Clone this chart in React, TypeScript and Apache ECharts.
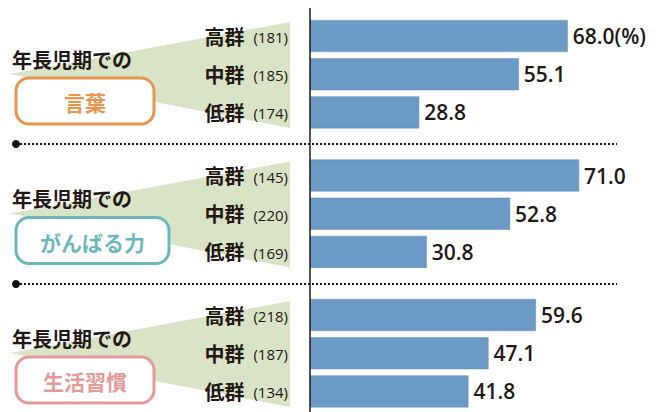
import React, { useEffect, useRef } from "react";
import * as echarts from "echarts";

const groups = ["言葉", "がんばる力", "生活習慣"];
const groupColors = ["#E8954F", "#6BB8BC", "#E59A98"];
const levels = ["高群", "中群", "低群"];
const counts = [
  [181, 185, 174],
  [145, 220, 169],
  [218, 187, 134],
];
const values = [
  [68.0, 55.1, 28.8],
  [71.0, 52.8, 30.8],
  [59.6, 47.1, 41.8],
];
const prefixText = "年長児期での";
const unitText = "(%)";

const JP = "'Noto Sans CJK JP', 'Noto Sans', sans-serif";
const NUM = "'Open Sans', 'Noto Sans', sans-serif";
const INK = "#231815";

export default function App() {
  const ref = useRef<HTMLDivElement>(null);
  useEffect(() => {
    document.body.style.margin = "0";
    if (!ref.current) return;
    const chart = echarts.init(ref.current, undefined, { renderer: "svg" });

    const offsets = [0, 139.5, 279];
    const gridTop = 16.9;
    const gridH = 114.6;
    const boxW = [138, 153, 138];

    const grids: any[] = [];
    const xAxes: any[] = [];
    const yAxes: any[] = [];
    const series: any[] = [];
    const graphics: any[] = [];

    groups.forEach((g, gi) => {
      const off = offsets[gi];
      grids.push({ left: 310, width: 303.2, top: gridTop + off, height: gridH });
      xAxes.push({
        type: "value",
        gridIndex: gi,
        min: 0,
        max: 80,
        show: false,
      });
      yAxes.push({
        type: "category",
        gridIndex: gi,
        inverse: true,
        data: levels,
        axisLine: { show: false },
        axisTick: { show: false },
        splitLine: { show: false },
        axisLabel: {
          margin: 22,
          fontSize: 15,
          fontFamily: NUM,
          color: INK,
          formatter: (v: string, idx: number) => `{a|${v}}{b|(${counts[gi][idx]})}`,
          rich: {
            a: { fontFamily: JP, fontSize: 20, fontWeight: "bold", color: INK },
            b: { fontFamily: NUM, fontSize: 15, fontWeight: 500, color: INK, padding: [2, 0, 0, 9] },
          },
        },
      });
      series.push({
        type: "bar",
        xAxisIndex: gi,
        yAxisIndex: gi,
        data: values[gi],
        barWidth: 32,
        itemStyle: { color: "#6B9AC6", borderColor: "#5E8DBB", borderWidth: 0.5 },
        label: {
          show: true,
          position: "right",
          distance: 5,
          fontFamily: NUM,
          fontSize: 21,
          fontWeight: 600,
          color: INK,
          formatter: (p: any) =>
            p.value.toFixed(1) + (gi === 0 && p.dataIndex === 0 ? unitText : ""),
        },
      });

      // wedge
      graphics.push({
        type: "polygon",
        z: -10,
        shape: { points: [[10, 74 + off], [290, 22 + off], [290, 128 + off]] },
        style: { fill: "#D9E3C6" },
      });
      // prefix text
      graphics.push({
        type: "text",
        z: 5,
        x: 12,
        y: 59 + off,
        style: {
          text: prefixText,
          fontFamily: JP,
          fontSize: 20,
          fontWeight: "bold",
          fill: INK,
          verticalAlign: "middle",
          align: "left",
        },
      });
      // box
      graphics.push({
        type: "rect",
        z: 5,
        shape: { x: 16, y: 78 + off, width: boxW[gi], height: 46, r: 13 },
        style: { fill: "#ffffff", stroke: groupColors[gi], lineWidth: 3 },
      });
      graphics.push({
        type: "text",
        z: 6,
        x: 16 + boxW[gi] / 2,
        y: 102 + off,
        style: {
          text: g,
          fontFamily: JP,
          fontSize: 21,
          fontWeight: "bold",
          fill: groupColors[gi],
          align: "center",
          verticalAlign: "middle",
        },
      });
    });

    // separators
    [144, 284].forEach((y) => {
      graphics.push({
        type: "line",
        z: 5,
        shape: { x1: 16, y1: y, x2: 617, y2: y },
        style: { stroke: "#231815", lineWidth: 2, lineDash: [2, 2] },
      });
      graphics.push({
        type: "circle",
        z: 6,
        shape: { cx: 16, cy: y, r: 4 },
        style: { fill: "#111" },
      });
    });

    // vertical axis line
    graphics.push({
      type: "line",
      z: 20,
      shape: { x1: 310, y1: 8, x2: 310, y2: 412 },
      style: { stroke: INK, lineWidth: 1.5 },
    });

    chart.setOption({
      animation: false,
      grid: grids,
      xAxis: xAxes,
      yAxis: yAxes,
      series,
      graphic: { elements: graphics },
    });
    return () => chart.dispose();
  }, []);
  return <div ref={ref} style={{ width: 661, height: 412 }} />;
}
